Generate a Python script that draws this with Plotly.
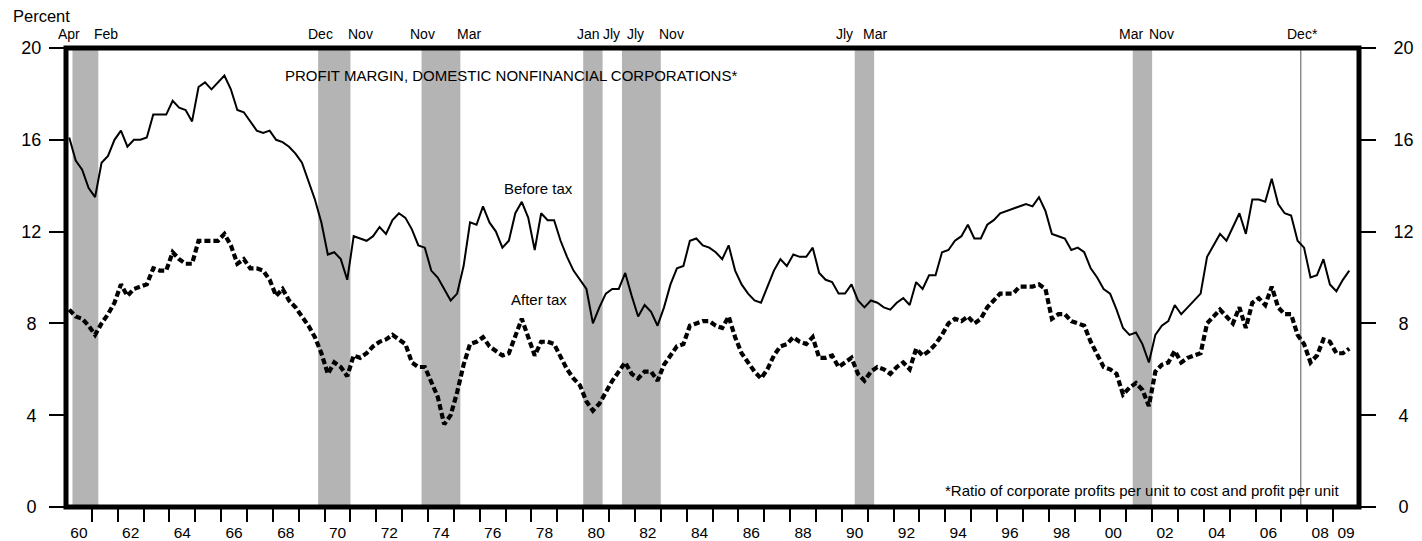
import pandas as pd
import plotly.graph_objects as go

# Quarterly profit margins of domestic nonfinancial corporations, percent
before_tax = [
    16.1, 15.1, 14.7, 13.9, 13.5, 15.0, 15.3, 16.0, 16.4, 15.7,
    16.0, 16.0, 16.1, 17.1, 17.1, 17.1, 17.7, 17.4, 17.3, 16.8,
    18.3, 18.5, 18.2, 18.5, 18.8, 18.2, 17.3, 17.2, 16.8, 16.4,
    16.3, 16.4, 16.0, 15.9, 15.7, 15.4, 15.0, 14.2, 13.4, 12.4,
    11.0, 11.1, 10.8, 9.9, 11.8, 11.7, 11.6, 11.8, 12.2, 11.9,
    12.5, 12.8, 12.6, 12.1, 11.4, 11.3, 10.3, 10.0, 9.5, 9.0,
    9.3, 10.5, 12.4, 12.3, 13.1, 12.4, 12.0, 11.3, 11.6, 12.8,
    13.3, 12.6, 11.2, 12.8, 12.5, 12.5, 11.6, 10.9, 10.3, 9.9,
    9.5, 8.0, 8.7, 9.3, 9.5, 9.5, 10.2, 9.2, 8.3, 8.8,
    8.5, 7.9, 8.7, 9.7, 10.4, 10.5, 11.6, 11.7, 11.4, 11.3,
    11.1, 10.8, 11.4, 10.3, 9.7, 9.3, 9.0, 8.9, 9.6, 10.3,
    10.8, 10.5, 11.0, 10.9, 10.9, 11.3, 10.2, 9.9, 9.8, 9.3,
    9.3, 9.7, 9.0, 8.7, 9.0, 8.9, 8.7, 8.6, 8.9, 9.1,
    8.8, 9.8, 9.5, 10.1, 10.1, 11.1, 11.2, 11.6, 11.8, 12.3,
    11.7, 11.7, 12.3, 12.5, 12.8, 12.9, 13.0, 13.1, 13.2, 13.1,
    13.5, 12.9, 11.9, 11.8, 11.7, 11.2, 11.3, 11.1, 10.4, 10.0,
    9.5, 9.3, 8.6, 7.8, 7.5, 7.6, 7.1, 6.3, 7.5, 7.9,
    8.1, 8.8, 8.4, 8.7, 9.0, 9.3, 10.9, 11.4, 11.9, 11.6,
    12.2, 12.8, 11.9, 13.4, 13.4, 13.3, 14.3, 13.2, 12.8, 12.7,
    11.6, 11.3, 10.0, 10.1, 10.8, 9.7, 9.4, 9.9, 10.3,
]
after_tax = [
    8.6, 8.3, 8.2, 7.9, 7.5, 8.0, 8.4, 8.9, 9.7, 9.2,
    9.5, 9.6, 9.7, 10.4, 10.3, 10.3, 11.1, 10.8, 10.6, 10.6,
    11.6, 11.6, 11.6, 11.6, 11.9, 11.4, 10.6, 10.8, 10.4, 10.4,
    10.3, 9.9, 9.2, 9.5, 9.0, 8.7, 8.3, 7.9, 7.4, 6.7,
    5.8, 6.3, 6.1, 5.7, 6.6, 6.5, 6.7, 7.0, 7.2, 7.3,
    7.5, 7.3, 7.1, 6.3, 6.1, 6.1, 5.4, 4.8, 3.6, 4.0,
    5.0, 6.2, 7.1, 7.2, 7.4, 7.0, 6.8, 6.6, 6.7, 7.4,
    8.2, 7.4, 6.6, 7.2, 7.2, 7.1, 6.5, 6.0, 5.6, 5.3,
    4.6, 4.2, 4.5, 5.0, 5.5, 5.9, 6.3, 5.8, 5.6, 5.9,
    5.9, 5.5, 6.2, 6.6, 7.0, 7.1, 7.9, 8.0, 8.1, 8.1,
    7.9, 7.8, 8.3, 7.4, 6.7, 6.3, 5.9, 5.6, 6.0, 6.6,
    7.0, 7.1, 7.4, 7.2, 7.1, 7.4, 6.5, 6.5, 6.6, 6.1,
    6.3, 6.5, 5.8, 5.5, 5.9, 6.1, 6.0, 5.8, 6.1, 6.3,
    6.0, 6.9, 6.6, 6.8, 7.1, 7.5, 8.0, 8.2, 8.1, 8.3,
    8.0, 8.2, 8.7, 9.0, 9.3, 9.3, 9.3, 9.6, 9.6, 9.6,
    9.7, 9.5, 8.2, 8.4, 8.4, 8.1, 8.0, 7.9, 7.2, 6.6,
    6.1, 6.0, 5.8, 4.9, 5.2, 5.4, 5.1, 4.4, 5.9, 6.2,
    6.3, 6.8, 6.3, 6.5, 6.6, 6.7, 8.0, 8.3, 8.6, 8.3,
    8.0, 8.7, 7.8, 8.9, 9.1, 8.8, 9.6, 8.7, 8.4, 8.4,
    7.5, 7.1, 6.3, 6.6, 7.3, 7.2, 6.7, 6.7, 6.9,
]
first_quarter = "1960Q1"

# Recession shading (quarter boundaries) and their peak / trough month labels
rec_start = [1960.25, 1969.75, 1973.75, 1980.0, 1981.5, 1990.5, 2001.25]
rec_end = [1961.25, 1971.0, 1975.25, 1980.75, 1983.0, 1991.25, 2002.0]
ongoing_start = 2007.75
month_labels = ["Apr", "Feb", "Dec", "Nov", "Nov", "Mar", "Jan", "Jly",
                "Jly", "Nov", "Jly", "Mar", "Mar", "Nov", "Dec*"]
month_label_x = [1960.12, 1961.55, 1969.86, 1971.37, 1973.80, 1975.58,
                 1980.20, 1981.11, 1982.01, 1983.43, 1990.09, 1991.28,
                 2001.17, 2002.35, 2007.80]

# Axis ticks
year_ticks = list(range(1961, 2010))
year_label_pos = [y + 0.5 for y in range(1960, 2009, 2)] + [2009.5]
year_labels = [f"{y % 100:02d}" for y in range(1960, 2009, 2)] + ["09"]
pct_ticks = [0, 4, 8, 12, 16, 20]

FONT = "Liberation Sans, Arial, Helvetica, sans-serif"
W, H = 1422, 541
ML, MR, MT, MB = 66, 63, 48, 34
PW, PH = W - ML - MR, H - MT - MB


def px_x(px):
    return (px - ML) / PW


def px_y(py):
    return (H - MB - py) / PH


quarters = pd.period_range(first_quarter, periods=len(before_tax), freq="Q")
xq = [p.year + (p.quarter - 0.5) / 4 for p in quarters]

fig = go.Figure()
fig.add_trace(go.Scatter(
    x=xq, y=before_tax, mode="lines", name="Before tax",
    line=dict(color="black", width=2), hoverinfo="x+y",
))
fig.add_trace(go.Scatter(
    x=xq, y=after_tax, mode="lines", name="After tax",
    xaxis="x2", yaxis="y2",
    line=dict(color="black", width=4.2, dash="6px,3px"), hoverinfo="x+y",
))

shapes = []
for s, e in zip(rec_start, rec_end):
    shapes.append(dict(type="rect", xref="x", yref="paper", x0=s, x1=e,
                       y0=0, y1=1, fillcolor="#b4b4b4", line=dict(width=0),
                       layer="below"))
shapes.append(dict(type="line", xref="x", yref="paper", x0=ongoing_start,
                   x1=ongoing_start, y0=0, y1=1,
                   line=dict(color="#555555", width=1), layer="below"))
shapes.append(dict(type="rect", xref="paper", yref="paper", x0=0, x1=1,
                   y0=0, y1=1, line=dict(color="black", width=5),
                   layer="above"))

annotations = []
for lab, lx in zip(month_labels, month_label_x):
    annotations.append(dict(x=lx, y=px_y(34), xref="x", yref="paper",
                            text=lab, showarrow=False, xanchor="center",
                            yanchor="middle",
                            font=dict(family=FONT, size=14, color="black")))
annotations += [
    dict(x=px_x(11), y=px_y(16), xref="paper", yref="paper", text="Percent",
         showarrow=False, xanchor="left", yanchor="middle",
         font=dict(family=FONT, size=16.5, color="black")),
    dict(x=px_x(283), y=px_y(75), xref="paper", yref="paper",
         text="PROFIT MARGIN, DOMESTIC NONFINANCIAL CORPORATIONS*",
         showarrow=False, xanchor="left", yanchor="middle",
         font=dict(family=FONT, size=15, color="black")),
    dict(x=px_x(538), y=px_y(188), xref="paper", yref="paper",
         text="Before tax", showarrow=False, xanchor="center",
         yanchor="middle", font=dict(family=FONT, size=15, color="black")),
    dict(x=px_x(539), y=px_y(299), xref="paper", yref="paper",
         text="After tax", showarrow=False, xanchor="center",
         yanchor="middle", font=dict(family=FONT, size=15, color="black")),
    dict(x=px_x(1341), y=px_y(490), xref="paper", yref="paper",
         text="*Ratio of corporate profits per unit to cost and profit per unit",
         showarrow=False, xanchor="right", yanchor="middle",
         font=dict(family=FONT, size=15, color="black")),
]

pad = "\u2008"
left_text = [f"{v}{pad}" if v < 10 else str(v) for v in pct_ticks]
right_text = [f"{pad}{v}" if v < 10 else str(v) for v in pct_ticks]

fig.update_layout(
    width=W, height=H,
    margin=dict(l=ML, r=MR, t=MT, b=MB, pad=0, autoexpand=False),
    paper_bgcolor="white", plot_bgcolor="white",
    showlegend=False,
    font=dict(family=FONT, color="black"),
    shapes=shapes, annotations=annotations,
    xaxis=dict(range=[1960, 2010], tickmode="array", tickvals=year_ticks,
               showticklabels=False, ticks="outside", ticklen=14,
               tickwidth=2, tickcolor="black", showgrid=False,
               zeroline=False, showline=False, fixedrange=True,
               automargin=False),
    xaxis2=dict(range=[1960, 2010], overlaying="x", side="bottom",
                tickmode="array", tickvals=year_label_pos,
                ticktext=year_labels, ticks="outside", ticklen=11,
                tickcolor="rgba(0,0,0,0)", showgrid=False, zeroline=False,
                showline=False, tickfont=dict(family=FONT, size=15.5),
                fixedrange=True, automargin=False),
    yaxis=dict(range=[0, 20], tickmode="array", tickvals=pct_ticks,
               ticktext=left_text, ticks="outside", ticklen=16, tickwidth=2,
               tickcolor="black", showgrid=False, zeroline=False,
               showline=False, ticklabelstandoff=4,
               tickfont=dict(family=FONT, size=18), fixedrange=True,
               automargin=False),
    yaxis2=dict(range=[0, 20], overlaying="y", side="right",
                tickmode="array", tickvals=pct_ticks, ticktext=right_text,
                ticks="outside", ticklen=16, tickwidth=2, tickcolor="black",
                showgrid=False, zeroline=False, showline=False,
                ticklabelstandoff=14,
                tickfont=dict(family=FONT, size=18), fixedrange=True,
                automargin=False),
)

fig.write_html("out.html")
